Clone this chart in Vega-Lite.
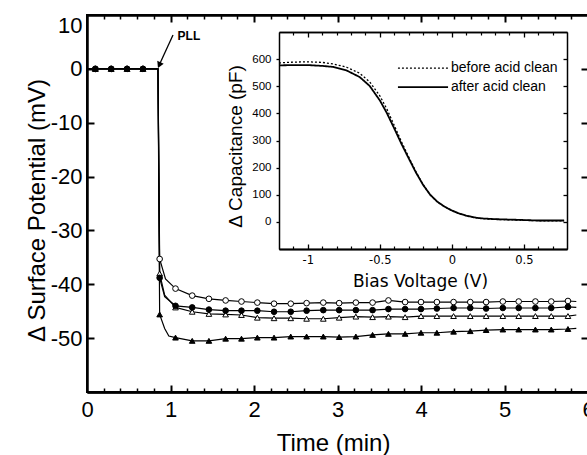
{
  "$schema": "https://vega.github.io/schema/vega-lite/v6.json",
  "width": 501,
  "height": 377,
  "autosize": {"type": "none"},
  "padding": {"left": 87, "top": 15, "right": 0, "bottom": 63},
  "background": "white",
  "config": {
    "view": {"stroke": "black", "strokeWidth": 2},
    "axis": {"grid": false, "labelColor": "black", "titleColor": "black", "tickColor": "black", "domainColor": "black", "domainWidth": 2, "labelFont": "Liberation Sans", "titleFont": "Liberation Sans", "titleFontWeight": "normal", "labelOverlap": false, "labelFlush": false}
  },
  "datasets": {
    "main": [
      {"s":"A","t":0,"v":0,"m":0},{"s":"A","t":0.1,"v":0,"m":1},{"s":"A","t":0.29,"v":0,"m":1},{"s":"A","t":0.48,"v":0,"m":1},{"s":"A","t":0.67,"v":0,"m":1},{"s":"A","t":0.85,"v":0,"m":0},
      {"s":"A","t":0.87,"v":-35.3,"m":1},{"s":"A","t":0.94,"v":-39.0,"m":0},{"s":"A","t":1.06,"v":-40.8,"m":1},{"s":"A","t":1.26,"v":-42.1,"m":1},{"s":"A","t":1.46,"v":-42.7,"m":1},{"s":"A","t":1.66,"v":-43.0,"m":1},{"s":"A","t":1.85,"v":-43.2,"m":1},{"s":"A","t":2.04,"v":-43.4,"m":1},{"s":"A","t":2.24,"v":-43.6,"m":1},{"s":"A","t":2.44,"v":-43.6,"m":1},{"s":"A","t":2.63,"v":-43.5,"m":1},{"s":"A","t":2.83,"v":-43.4,"m":1},{"s":"A","t":3.02,"v":-43.5,"m":1},{"s":"A","t":3.22,"v":-43.4,"m":1},{"s":"A","t":3.42,"v":-43.4,"m":1},{"s":"A","t":3.61,"v":-43.0,"m":1},{"s":"A","t":3.81,"v":-43.3,"m":1},{"s":"A","t":4.0,"v":-43.3,"m":1},{"s":"A","t":4.19,"v":-43.3,"m":1},{"s":"A","t":4.39,"v":-43.3,"m":1},{"s":"A","t":4.59,"v":-43.3,"m":1},{"s":"A","t":4.78,"v":-43.3,"m":1},{"s":"A","t":4.98,"v":-43.2,"m":1},{"s":"A","t":5.17,"v":-43.2,"m":1},{"s":"A","t":5.37,"v":-43.2,"m":1},{"s":"A","t":5.56,"v":-43.2,"m":1},{"s":"A","t":5.76,"v":-43.1,"m":1},{"s":"A","t":5.86,"v":-43.2,"m":0},
      {"s":"C","t":0,"v":0,"m":0},{"s":"C","t":0.1,"v":0,"m":1},{"s":"C","t":0.29,"v":0,"m":1},{"s":"C","t":0.48,"v":0,"m":1},{"s":"C","t":0.67,"v":0,"m":1},{"s":"C","t":0.85,"v":0,"m":0},
      {"s":"C","t":0.87,"v":-38.0,"m":1},{"s":"C","t":0.93,"v":-42.0,"m":0},{"s":"C","t":1.06,"v":-44.3,"m":1},{"s":"C","t":1.26,"v":-45.1,"m":1},{"s":"C","t":1.46,"v":-45.5,"m":1},{"s":"C","t":1.66,"v":-45.6,"m":1},{"s":"C","t":1.85,"v":-45.7,"m":1},{"s":"C","t":2.04,"v":-46.2,"m":1},{"s":"C","t":2.24,"v":-46.3,"m":1},{"s":"C","t":2.44,"v":-46.3,"m":1},{"s":"C","t":2.63,"v":-46.4,"m":1},{"s":"C","t":2.83,"v":-46.4,"m":1},{"s":"C","t":3.02,"v":-46.2,"m":1},{"s":"C","t":3.22,"v":-46.0,"m":1},{"s":"C","t":3.42,"v":-46.1,"m":1},{"s":"C","t":3.61,"v":-46.0,"m":1},{"s":"C","t":3.81,"v":-46.1,"m":1},{"s":"C","t":4.0,"v":-45.9,"m":1},{"s":"C","t":4.19,"v":-45.9,"m":1},{"s":"C","t":4.39,"v":-45.9,"m":1},{"s":"C","t":4.59,"v":-45.9,"m":1},{"s":"C","t":4.78,"v":-45.9,"m":1},{"s":"C","t":4.98,"v":-45.9,"m":1},{"s":"C","t":5.17,"v":-45.9,"m":1},{"s":"C","t":5.37,"v":-45.9,"m":1},{"s":"C","t":5.56,"v":-45.9,"m":1},{"s":"C","t":5.76,"v":-45.9,"m":1},{"s":"C","t":5.86,"v":-45.7,"m":0},
      {"s":"B","t":0,"v":0,"m":0},{"s":"B","t":0.1,"v":0,"m":1},{"s":"B","t":0.29,"v":0,"m":1},{"s":"B","t":0.48,"v":0,"m":1},{"s":"B","t":0.67,"v":0,"m":1},{"s":"B","t":0.85,"v":0,"m":0},
      {"s":"B","t":0.87,"v":-38.8,"m":1},{"s":"B","t":0.93,"v":-42.3,"m":0},{"s":"B","t":1.06,"v":-44.0,"m":1},{"s":"B","t":1.26,"v":-44.3,"m":1},{"s":"B","t":1.46,"v":-44.7,"m":1},{"s":"B","t":1.66,"v":-44.9,"m":1},{"s":"B","t":1.85,"v":-44.9,"m":1},{"s":"B","t":2.04,"v":-44.9,"m":1},{"s":"B","t":2.24,"v":-45.1,"m":1},{"s":"B","t":2.44,"v":-45.1,"m":1},{"s":"B","t":2.63,"v":-44.9,"m":1},{"s":"B","t":2.83,"v":-44.8,"m":1},{"s":"B","t":3.02,"v":-44.8,"m":1},{"s":"B","t":3.22,"v":-44.8,"m":1},{"s":"B","t":3.42,"v":-44.8,"m":1},{"s":"B","t":3.61,"v":-44.6,"m":1},{"s":"B","t":3.81,"v":-44.6,"m":1},{"s":"B","t":4.0,"v":-44.6,"m":1},{"s":"B","t":4.19,"v":-44.5,"m":1},{"s":"B","t":4.39,"v":-44.4,"m":1},{"s":"B","t":4.59,"v":-44.4,"m":1},{"s":"B","t":4.78,"v":-44.5,"m":1},{"s":"B","t":4.98,"v":-44.4,"m":1},{"s":"B","t":5.17,"v":-44.4,"m":1},{"s":"B","t":5.37,"v":-44.4,"m":1},{"s":"B","t":5.56,"v":-44.4,"m":1},{"s":"B","t":5.76,"v":-44.2,"m":1},{"s":"B","t":5.86,"v":-44.3,"m":0},
      {"s":"D","t":0,"v":0,"m":0},{"s":"D","t":0.1,"v":0,"m":1},{"s":"D","t":0.29,"v":0,"m":1},{"s":"D","t":0.48,"v":0,"m":1},{"s":"D","t":0.67,"v":0,"m":1},{"s":"D","t":0.85,"v":0,"m":0},
      {"s":"D","t":0.87,"v":-45.6,"m":1},{"s":"D","t":0.93,"v":-48.2,"m":0},{"s":"D","t":0.98,"v":-49.6,"m":0},{"s":"D","t":1.06,"v":-49.9,"m":1},{"s":"D","t":1.26,"v":-50.5,"m":1},{"s":"D","t":1.46,"v":-50.5,"m":1},{"s":"D","t":1.66,"v":-50.1,"m":1},{"s":"D","t":1.85,"v":-50.1,"m":1},{"s":"D","t":2.04,"v":-49.9,"m":1},{"s":"D","t":2.24,"v":-49.9,"m":1},{"s":"D","t":2.44,"v":-49.7,"m":1},{"s":"D","t":2.63,"v":-49.7,"m":1},{"s":"D","t":2.83,"v":-49.7,"m":1},{"s":"D","t":3.02,"v":-49.8,"m":1},{"s":"D","t":3.22,"v":-49.7,"m":1},{"s":"D","t":3.42,"v":-49.4,"m":1},{"s":"D","t":3.61,"v":-49.2,"m":1},{"s":"D","t":3.81,"v":-49.2,"m":1},{"s":"D","t":4.0,"v":-49.0,"m":1},{"s":"D","t":4.19,"v":-49.0,"m":1},{"s":"D","t":4.39,"v":-48.8,"m":1},{"s":"D","t":4.59,"v":-48.7,"m":1},{"s":"D","t":4.78,"v":-48.5,"m":1},{"s":"D","t":4.98,"v":-48.4,"m":1},{"s":"D","t":5.17,"v":-48.4,"m":1},{"s":"D","t":5.37,"v":-48.4,"m":1},{"s":"D","t":5.56,"v":-48.4,"m":1},{"s":"D","t":5.76,"v":-48.3,"m":1},{"s":"D","t":5.86,"v":-48.2,"m":0}
    ],
    "cv": [
      {"k":"after acid clean","V":-1.2,"C":577},{"k":"after acid clean","V":-1.1,"C":578},{"k":"after acid clean","V":-1.0,"C":578},{"k":"after acid clean","V":-0.9,"C":575},{"k":"after acid clean","V":-0.82,"C":571},{"k":"after acid clean","V":-0.73,"C":558},{"k":"after acid clean","V":-0.64,"C":534},{"k":"after acid clean","V":-0.57,"C":501},{"k":"after acid clean","V":-0.5,"C":448},{"k":"after acid clean","V":-0.45,"C":400},{"k":"after acid clean","V":-0.4,"C":345},{"k":"after acid clean","V":-0.35,"C":288},{"k":"after acid clean","V":-0.3,"C":235},{"k":"after acid clean","V":-0.25,"C":183},{"k":"after acid clean","V":-0.2,"C":137},{"k":"after acid clean","V":-0.15,"C":100},{"k":"after acid clean","V":-0.1,"C":74},{"k":"after acid clean","V":-0.05,"C":56},{"k":"after acid clean","V":0,"C":42},{"k":"after acid clean","V":0.05,"C":31},{"k":"after acid clean","V":0.1,"C":23},{"k":"after acid clean","V":0.15,"C":17},{"k":"after acid clean","V":0.2,"C":13},{"k":"after acid clean","V":0.3,"C":10},{"k":"after acid clean","V":0.43,"C":8},{"k":"after acid clean","V":0.6,"C":5},{"k":"after acid clean","V":0.78,"C":5},
      {"k":"before acid clean","V":-1.2,"C":586},{"k":"before acid clean","V":-1.1,"C":589},{"k":"before acid clean","V":-1.0,"C":590},{"k":"before acid clean","V":-0.9,"C":588},{"k":"before acid clean","V":-0.82,"C":582},{"k":"before acid clean","V":-0.73,"C":570},{"k":"before acid clean","V":-0.64,"C":548},{"k":"before acid clean","V":-0.57,"C":516},{"k":"before acid clean","V":-0.5,"C":465},{"k":"before acid clean","V":-0.45,"C":415},{"k":"before acid clean","V":-0.4,"C":356},{"k":"before acid clean","V":-0.35,"C":296},{"k":"before acid clean","V":-0.3,"C":240},{"k":"before acid clean","V":-0.25,"C":186},{"k":"before acid clean","V":-0.2,"C":138},{"k":"before acid clean","V":-0.15,"C":100},{"k":"before acid clean","V":-0.1,"C":74},{"k":"before acid clean","V":-0.05,"C":56},{"k":"before acid clean","V":0,"C":42},{"k":"before acid clean","V":0.05,"C":31},{"k":"before acid clean","V":0.1,"C":23},{"k":"before acid clean","V":0.15,"C":17},{"k":"before acid clean","V":0.2,"C":13},{"k":"before acid clean","V":0.3,"C":9},{"k":"before acid clean","V":0.43,"C":7},{"k":"before acid clean","V":0.6,"C":4},{"k":"before acid clean","V":0.78,"C":4}
    ],
    "leg": [
      {"k":"before acid clean","V1":-0.374,"V2":-0.026,"C":567,"VT":-0.006},
      {"k":"after acid clean","V1":-0.374,"V2":-0.026,"C":497,"VT":-0.006}
    ],
    "dummyMain": [{"t":0,"v":0}],
    "dummyInset": [{"V":0,"C":0}]
  },
  "resolve": {"scale": {"x": "independent", "y": "independent"}, "axis": {"x": "independent", "y": "independent"}},
  "layer": [
    {
      "data": {"name": "main"},
      "mark": {"type": "line", "stroke": "black", "strokeWidth": 1.2},
      "encoding": {
        "x": {"field": "t", "type": "quantitative", "scale": {"domain": [0, 6], "nice": false, "zero": false},
              "axis": {"orient": "bottom", "values": [0,1,2,3,4,5,6], "tickSize": 0, "labelFontSize": 22, "labelPadding": 7, "title": "Time (min)", "titleFontSize": 24, "titleX": 246, "titleY": 58, "titleBaseline": "alphabetic", "titleAlign": "center"}},
        "y": {"field": "v", "type": "quantitative", "scale": {"domain": [-60, 10], "nice": false, "zero": false},
              "axis": {"orient": "left", "values": [-50,-40,-30,-20,-10,0,10], "tickSize": 0, "labelFontSize": 22, "labelPadding": 5, "labelFlush": true, "labelExpr": "replace(datum.label, '−', '-')", "title": "Δ Surface Potential (mV)", "titleFontSize": 24, "titleX": -43, "titleY": 195, "titleAngle": -90, "titleBaseline": "alphabetic", "titleAlign": "center"}},
        "detail": {"field": "s"}
      }
    },
    {
      "data": {"name": "main"},
      "transform": [{"filter": "datum.m == 1"}],
      "mark": {"type": "point", "filled": true, "stroke": "black", "strokeWidth": 1, "opacity": 1},
      "encoding": {
        "x": {"field": "t", "type": "quantitative", "scale": {"domain": [0, 6], "nice": false, "zero": false},
              "axis": {"orient": "bottom", "values": [1,2,3,4,5], "labels": false, "ticks": true, "tickSize": -7, "tickWidth": 2, "title": null}},
        "y": {"field": "v", "type": "quantitative", "scale": {"domain": [-60, 10], "nice": false, "zero": false},
              "axis": {"orient": "left", "values": [-50,-40,-30,-20,-10,0], "labels": false, "ticks": true, "tickSize": -7, "tickWidth": 2, "title": null}},
        "shape": {"field": "s", "type": "nominal", "scale": {"domain": ["A","B","C","D"], "range": ["circle","circle","triangle-up","triangle-up"]}, "legend": null},
        "fill": {"field": "s", "type": "nominal", "scale": {"domain": ["A","B","C","D"], "range": ["white","black","white","black"]}, "legend": null},
        "size": {"field": "s", "type": "nominal", "scale": {"domain": ["A","B","C","D"], "range": [32, 32, 38, 38]}, "legend": null}
      }
    },
    {
      "data": {"name": "dummyMain"},
      "mark": {"type": "point", "opacity": 0},
      "encoding": {
        "x": {"field": "t", "type": "quantitative", "scale": {"domain": [0, 6], "nice": false, "zero": false},
              "axis": {"orient": "bottom", "values": [0.2,0.4,0.6,0.8,1.2,1.4,1.6,1.8,2.2,2.4,2.6,2.8,3.2,3.4,3.6,3.8,4.2,4.4,4.6,4.8,5.2,5.4,5.6,5.8], "labels": false, "ticks": true, "tickSize": -4, "tickWidth": 1.5, "title": null}},
        "y": {"field": "v", "type": "quantitative", "scale": {"domain": [-60, 10], "nice": false, "zero": false},
              "axis": {"orient": "right", "values": [-50,-40,-30,-20,-10,0], "labels": false, "ticks": true, "tickSize": -7, "tickWidth": 2, "title": null}}
      }
    },
    {
      "data": {"name": "dummyMain"},
      "mark": {"type": "point", "opacity": 0},
      "encoding": {
        "x": {"field": "t", "type": "quantitative", "scale": {"domain": [0, 6], "nice": false, "zero": false},
              "axis": {"orient": "top", "values": [1,2,3,4,5], "labels": false, "ticks": true, "tickSize": -7, "tickWidth": 2, "title": null}},
        "y": {"field": "v", "type": "quantitative", "scale": {"domain": [-60, 10], "nice": false, "zero": false}, "axis": null}
      }
    },
    {
      "data": {"name": "dummyMain"},
      "mark": {"type": "point", "opacity": 0},
      "encoding": {
        "x": {"field": "t", "type": "quantitative", "scale": {"domain": [0, 6], "nice": false, "zero": false},
              "axis": {"orient": "top", "values": [0.2,0.4,0.6,0.8,1.2,1.4,1.6,1.8,2.2,2.4,2.6,2.8,3.2,3.4,3.6,3.8,4.2,4.4,4.6,4.8,5.2,5.4,5.6,5.8], "labels": false, "ticks": true, "tickSize": -4, "tickWidth": 1.5, "title": null}},
        "y": {"field": "v", "type": "quantitative", "scale": {"domain": [-60, 10], "nice": false, "zero": false}, "axis": null}
      }
    },
    {
      "data": {"values": [{"t": 1.22, "v": 6.1, "label": "PLL"}]},
      "mark": {"type": "text", "font": "Liberation Sans", "fontSize": 12, "fontWeight": "bold", "align": "center", "baseline": "middle", "color": "black"},
      "encoding": {
        "x": {"field": "t", "type": "quantitative", "scale": {"domain": [0, 6], "nice": false, "zero": false}, "axis": null},
        "y": {"field": "v", "type": "quantitative", "scale": {"domain": [-60, 10], "nice": false, "zero": false}, "axis": null},
        "text": {"field": "label"}
      }
    },
    {
      "data": {"values": [{"t": 1.03, "v": 6.3, "t2": 0.865, "v2": 0.7}]},
      "mark": {"type": "rule", "color": "black", "strokeWidth": 1.3},
      "encoding": {
        "x": {"field": "t", "type": "quantitative", "scale": {"domain": [0, 6], "nice": false, "zero": false}, "axis": null},
        "y": {"field": "v", "type": "quantitative", "scale": {"domain": [-60, 10], "nice": false, "zero": false}, "axis": null},
        "x2": {"field": "t2"},
        "y2": {"field": "v2"}
      }
    },
    {
      "data": {"values": [{"t": 0.865, "v": 0.7}]},
      "mark": {"type": "point", "shape": "triangle-up", "filled": true, "color": "black", "size": 50, "angle": 204, "opacity": 1},
      "encoding": {
        "x": {"field": "t", "type": "quantitative", "scale": {"domain": [0, 6], "nice": false, "zero": false}, "axis": null},
        "y": {"field": "v", "type": "quantitative", "scale": {"domain": [-60, 10], "nice": false, "zero": false}, "axis": null}
      }
    },
    {
      "data": {"name": "cv"},
      "mark": {"type": "line", "stroke": "black"},
      "encoding": {
        "x": {"field": "V", "type": "quantitative", "scale": {"domain": [-1.2, 0.8], "range": [192, 480], "nice": false, "zero": false},
              "axis": {"orient": "bottom", "offset": -143, "values": [-1, -0.5, 0, 0.5], "tickSize": 0, "domainWidth": 1.5, "labelFont": "DejaVu Sans", "labelFontSize": 11.5, "labelPadding": 5, "labelExpr": "datum.value < 0 ? '-' + abs(datum.value) : '' + datum.value", "title": "Bias Voltage (V)", "titleFont": "DejaVu Sans", "titleFontSize": 17, "titleX": 333, "titleY": 37, "titleBaseline": "alphabetic", "titleAlign": "center"}},
        "y": {"field": "C", "type": "quantitative", "scale": {"domain": [-100, 700], "range": [234, 17], "nice": false, "zero": false},
              "axis": {"orient": "left", "offset": -192, "values": [0,100,200,300,400,500,600], "ticks": true, "tickSize": 3, "tickWidth": 1.3, "domainWidth": 1.5, "labelFontSize": 11.5, "labelPadding": 5, "title": "Δ Capacitance (pF)", "titleFontSize": 19, "titleX": -38, "titleY": 131, "titleAngle": -90, "titleBaseline": "alphabetic", "titleAlign": "center"}},
        "strokeDash": {"field": "k", "type": "nominal", "scale": {"domain": ["before acid clean", "after acid clean"], "range": [[2, 2], [1, 0]]}, "legend": null},
        "strokeWidth": {"field": "k", "type": "nominal", "scale": {"domain": ["before acid clean", "after acid clean"], "range": [1.3, 1.8]}, "legend": null}
      }
    },
    {
      "data": {"name": "dummyInset"},
      "mark": {"type": "point", "opacity": 0},
      "encoding": {
        "x": {"field": "V", "type": "quantitative", "scale": {"domain": [-1.2, 0.8], "range": [192, 480], "nice": false, "zero": false},
              "axis": {"orient": "bottom", "offset": -143, "values": [-1, -0.5, 0, 0.5], "labels": false, "ticks": true, "tickSize": -5, "tickWidth": 1.3, "domainWidth": 1.5, "title": null}},
        "y": {"field": "C", "type": "quantitative", "scale": {"domain": [-100, 700], "range": [234, 17], "nice": false, "zero": false},
              "axis": {"orient": "right", "offset": -21, "values": [0,100,200,300,400,500,600], "labels": false, "ticks": true, "tickSize": -4, "tickWidth": 1.3, "domainWidth": 1.5, "title": null}}
      }
    },
    {
      "data": {"name": "dummyInset"},
      "mark": {"type": "point", "opacity": 0},
      "encoding": {
        "x": {"field": "V", "type": "quantitative", "scale": {"domain": [-1.2, 0.8], "range": [192, 480], "nice": false, "zero": false},
              "axis": {"orient": "bottom", "offset": -143, "values": [-1.1,-0.9,-0.8,-0.7,-0.6,-0.4,-0.3,-0.2,-0.1,0.1,0.2,0.3,0.4,0.6,0.7], "labels": false, "ticks": true, "tickSize": -3, "tickWidth": 1.2, "domainWidth": 1.5, "title": null}},
        "y": {"field": "C", "type": "quantitative", "scale": {"domain": [-100, 700], "range": [234, 17], "nice": false, "zero": false}, "axis": null}
      }
    },
    {
      "data": {"name": "dummyInset"},
      "mark": {"type": "point", "opacity": 0},
      "encoding": {
        "x": {"field": "V", "type": "quantitative", "scale": {"domain": [-1.2, 0.8], "range": [192, 480], "nice": false, "zero": false},
              "axis": {"orient": "top", "offset": -17, "values": [-1, -0.5, 0, 0.5], "labels": false, "ticks": true, "tickSize": -5, "tickWidth": 1.3, "domainWidth": 1.5, "title": null}},
        "y": {"field": "C", "type": "quantitative", "scale": {"domain": [-100, 700], "range": [234, 17], "nice": false, "zero": false}, "axis": null}
      }
    },
    {
      "data": {"name": "dummyInset"},
      "mark": {"type": "point", "opacity": 0},
      "encoding": {
        "x": {"field": "V", "type": "quantitative", "scale": {"domain": [-1.2, 0.8], "range": [192, 480], "nice": false, "zero": false},
              "axis": {"orient": "top", "offset": -17, "values": [-1.1,-0.9,-0.8,-0.7,-0.6,-0.4,-0.3,-0.2,-0.1,0.1,0.2,0.3,0.4,0.6,0.7], "labels": false, "ticks": true, "tickSize": -3, "tickWidth": 1.2, "domainWidth": 1.5, "title": null}},
        "y": {"field": "C", "type": "quantitative", "scale": {"domain": [-100, 700], "range": [234, 17], "nice": false, "zero": false}, "axis": null}
      }
    },
    {
      "data": {"name": "leg"},
      "mark": {"type": "rule", "color": "black"},
      "encoding": {
        "x": {"field": "V1", "type": "quantitative", "scale": {"domain": [-1.2, 0.8], "range": [192, 480], "nice": false, "zero": false}, "axis": null},
        "x2": {"field": "V2"},
        "y": {"field": "C", "type": "quantitative", "scale": {"domain": [-100, 700], "range": [234, 17], "nice": false, "zero": false}, "axis": null},
        "strokeDash": {"field": "k", "type": "nominal", "scale": {"domain": ["before acid clean", "after acid clean"], "range": [[2, 2], [1, 0]]}, "legend": null},
        "strokeWidth": {"field": "k", "type": "nominal", "scale": {"domain": ["before acid clean", "after acid clean"], "range": [1.3, 1.8]}, "legend": null}
      }
    },
    {
      "data": {"name": "leg"},
      "mark": {"type": "text", "font": "Liberation Sans", "fontSize": 14, "align": "left", "baseline": "middle", "color": "black"},
      "encoding": {
        "x": {"field": "VT", "type": "quantitative", "scale": {"domain": [-1.2, 0.8], "range": [192, 480], "nice": false, "zero": false}, "axis": null},
        "y": {"field": "C", "type": "quantitative", "scale": {"domain": [-100, 700], "range": [234, 17], "nice": false, "zero": false}, "axis": null},
        "text": {"field": "k"}
      }
    }
  ]
}
